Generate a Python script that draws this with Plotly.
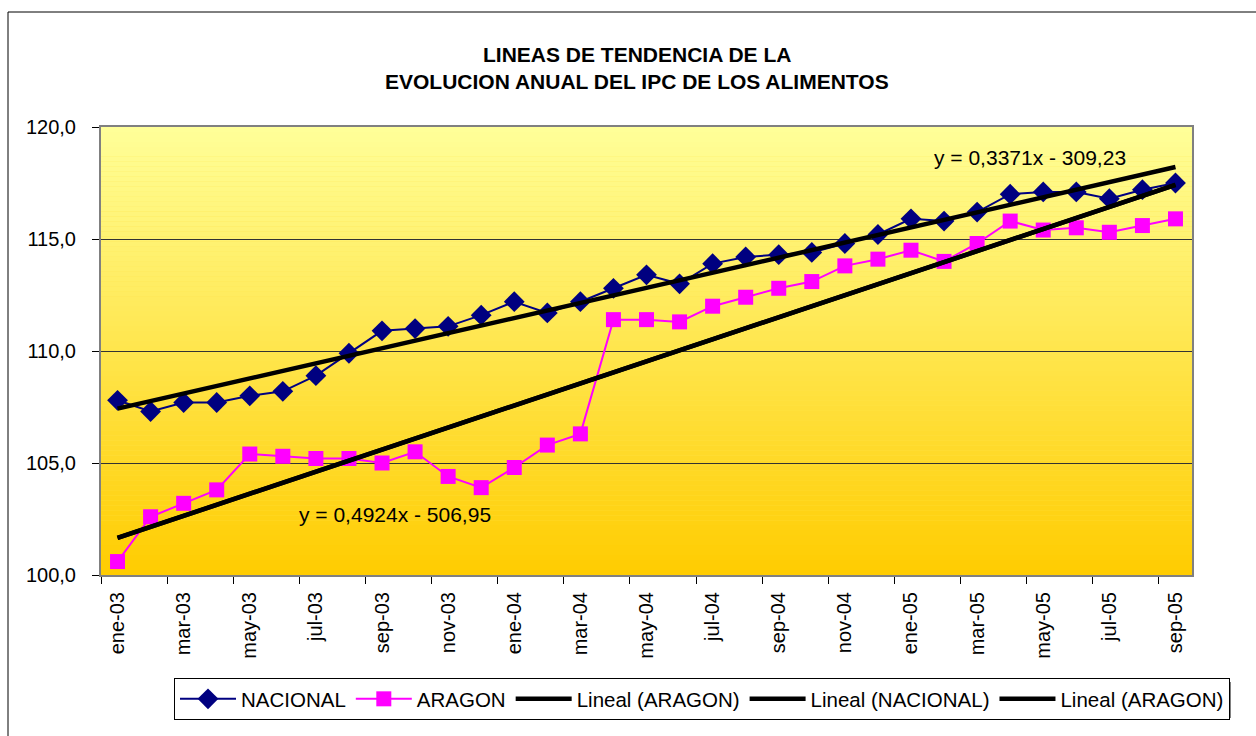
import plotly.graph_objects as go

# Monthly food CPI index, Jan 2003 - Sep 2005
months = [
    "ene-03", "feb-03", "mar-03", "abr-03", "may-03", "jun-03", "jul-03", "ago-03",
    "sep-03", "oct-03", "nov-03", "dic-03", "ene-04", "feb-04", "mar-04", "abr-04",
    "may-04", "jun-04", "jul-04", "ago-04", "sep-04", "oct-04", "nov-04", "dic-04",
    "ene-05", "feb-05", "mar-05", "abr-05", "may-05", "jun-05", "jul-05", "ago-05",
    "sep-05",
]
nacional = [
    107.8, 107.3, 107.7, 107.7, 108.0, 108.2, 108.9, 109.9,
    110.9, 111.0, 111.1, 111.6, 112.2, 111.7, 112.2, 112.8,
    113.4, 113.0, 113.9, 114.2, 114.3, 114.4, 114.8, 115.2,
    115.9, 115.8, 116.2, 117.0, 117.1, 117.1, 116.8, 117.2,
    117.5,
]
aragon = [
    100.6, 102.6, 103.2, 103.8, 105.4, 105.3, 105.2, 105.2,
    105.0, 105.5, 104.4, 103.9, 104.8, 105.8, 106.3, 111.4,
    111.4, 111.3, 112.0, 112.4, 112.8, 113.1, 113.8, 114.1,
    114.5, 114.0, 114.8, 115.8, 115.4, 115.5, 115.3, 115.6,
    115.9,
]

# Linear trend coefficients (x = months counted from Jan 1900)
trend_nacional = (0.3371, -309.23)
trend_aragon = (0.4924, -506.95)
x_start = 1236

FONT = "Liberation Sans, Arial, sans-serif"

# plot-area geometry in pixels
L, R, T, B = 101, 1192, 127, 575
PW, PH = R - L, B - T


def px(xp):
    return (xp - L) / PW


def py(yp):
    return (B - yp) / PH


def trend_values(coef):
    slope, intercept = coef
    return [slope * (x_start + i) + intercept for i in range(len(months))]


tn = trend_values(trend_nacional)
ta = trend_values(trend_aragon)

fig = go.Figure()
fig.add_trace(go.Scatter(
    x=months, y=nacional, name="NACIONAL", mode="lines+markers",
    line=dict(color="#000080", width=2),
    marker=dict(symbol="diamond", size=16, color="#000080"),
))
fig.add_trace(go.Scatter(
    x=months, y=aragon, name="ARAGON", mode="lines+markers",
    line=dict(color="#FF00FF", width=2),
    marker=dict(symbol="square", size=15, color="#FF00FF"),
))
fig.add_trace(go.Scatter(
    x=months, y=ta, name="Lineal (ARAGON)", mode="lines",
    line=dict(color="black", width=4.5),
))
fig.add_trace(go.Scatter(
    x=months, y=tn, name="Lineal (NACIONAL)", mode="lines",
    line=dict(color="black", width=4.5),
))
fig.add_trace(go.Scatter(
    x=months, y=ta, name="Lineal (ARAGON)", mode="lines",
    line=dict(color="black", width=4.5),
))

# Vertical gradient in the plotting area: light yellow to gold
shapes = []
n_strips = 90
top = (255, 255, 153)
bottom = (255, 204, 0)
for k in range(n_strips):
    t = (k + 0.5) / n_strips
    r = round(bottom[0] + (top[0] - bottom[0]) * t)
    g = round(bottom[1] + (top[1] - bottom[1]) * t)
    b = round(bottom[2] + (top[2] - bottom[2]) * t)
    shapes.append(dict(
        type="rect", xref="paper", yref="paper",
        x0=0, x1=1, y0=k / n_strips, y1=(k + 1.02) / n_strips,
        fillcolor=f"rgb({r},{g},{b})", line=dict(width=0), layer="below",
    ))

# Outer chart frame
shapes.append(dict(
    type="rect", xref="paper", yref="paper",
    x0=px(8), x1=px(1262), y0=py(742), y1=py(12),
    line=dict(color="black", width=1), fillcolor="rgba(0,0,0,0)", layer="below",
))
# Legend drop shadow
shapes.append(dict(
    type="rect", xref="paper", yref="paper",
    x0=px(177), x1=px(1231), y0=py(718), y1=py(682),
    line=dict(width=0), fillcolor="#808080", layer="below",
))

annotations = [
    dict(text="<b>LINEAS DE TENDENCIA DE LA</b>", xref="paper", yref="paper",
         x=px(637), y=py(55), showarrow=False,
         xanchor="center", yanchor="middle",
         font=dict(family=FONT, size=21, color="black")),
    dict(text="<b>EVOLUCION ANUAL DEL IPC DE LOS ALIMENTOS</b>", xref="paper", yref="paper",
         x=px(637), y=py(82), showarrow=False,
         xanchor="center", yanchor="middle",
         font=dict(family=FONT, size=21, color="black")),
    dict(text="y = 0,4924x - 506,95", xref="paper", yref="paper",
         x=px(395), y=py(514), showarrow=False,
         xanchor="center", yanchor="middle",
         font=dict(family=FONT, size=21, color="black")),
    dict(text="y = 0,3371x - 309,23", xref="paper", yref="paper",
         x=px(1030), y=py(157), showarrow=False,
         xanchor="center", yanchor="middle",
         font=dict(family=FONT, size=21, color="black")),
]

fig.update_layout(
    width=1256, height=736,
    margin=dict(l=L, r=1256 - R, t=T, b=736 - B),
    paper_bgcolor="white", plot_bgcolor="#FFE34D",
    separators=",.",
    font=dict(family=FONT, size=20, color="black"),
    shapes=shapes, annotations=annotations,
    showlegend=True,
    legend=dict(
        orientation="h", x=px(174), y=py(678),
        xanchor="left", yanchor="top",
        bgcolor="white", bordercolor="black", borderwidth=1,
        font=dict(family=FONT, size=20.5, color="black"),
        itemwidth=56, tracegroupgap=0,
    ),
    xaxis=dict(
        type="category", tickangle=-90, tickson="boundaries",
        tick0=0, dtick=2, ticks="outside", ticklen=7, tickcolor="black",
        ticklabelstandoff=7,
        showgrid=False, showline=True, linecolor="#808080", linewidth=2, mirror=True,
        tickfont=dict(family=FONT, size=20, color="black"),
        range=[-0.5, len(months) - 0.5],
    ),
    yaxis=dict(
        range=[100, 120], dtick=5, tickformat=".1f",
        ticks="outside", ticklen=7, tickcolor="black",
        ticklabelstandoff=12,
        showgrid=True, gridcolor="#333333", gridwidth=1,
        showline=True, linecolor="#808080", linewidth=2, mirror=True,
        zeroline=False,
        tickfont=dict(family=FONT, size=20, color="black"),
    ),
)

fig.write_html("out.html")
